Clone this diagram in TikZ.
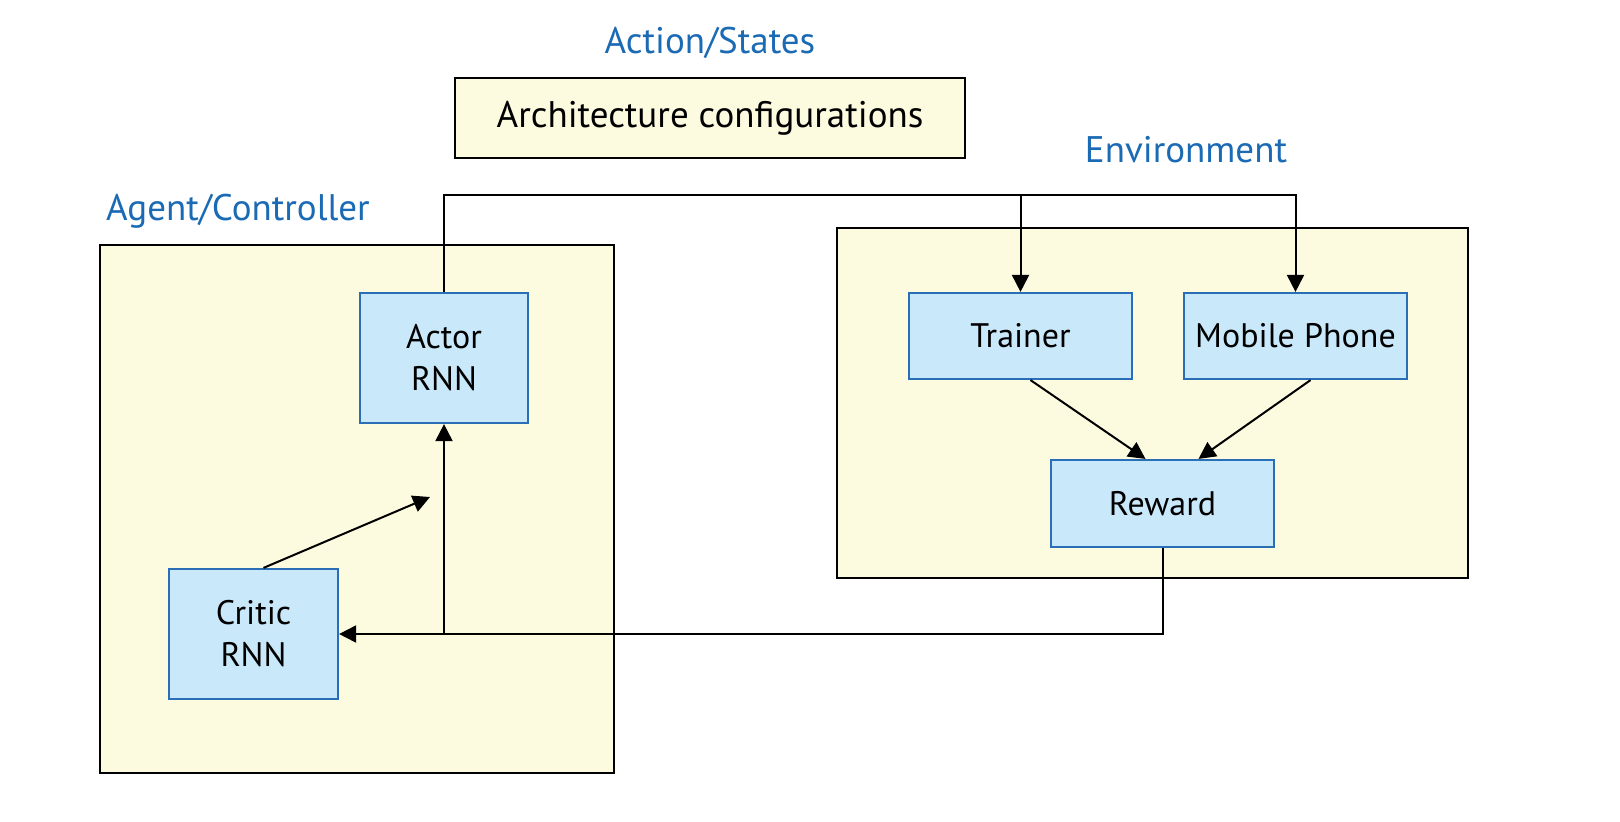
\documentclass[tikz,border=0pt]{standalone}
\usepackage{fontspec}
\setmainfont{PT Sans}
\usetikzlibrary{arrows.meta,positioning}
\definecolor{pale}{HTML}{FDFBDF}
\definecolor{sky}{HTML}{C9E9FB}
\definecolor{titleblue}{HTML}{1B6AB4}
\definecolor{edgeblue}{HTML}{2A6EB5}

\begin{document}
\begin{tikzpicture}[x=1pt,y=-1pt,>={Triangle[length=17pt,width=17pt]},line width=2pt,
    font=\fontsize{37}{44}\selectfont,
    panel/.style={draw=black,fill=pale,inner sep=0pt},
    unit/.style={draw=edgeblue,fill=sky,line width=2.2pt,align=center,inner sep=0pt,
        font=\fontsize{34}{42}\selectfont},
    heading/.style={text=titleblue}]

    \useasboundingbox (0,0) rectangle (1620,822);

    % frames
    \node[panel,minimum width=514pt,minimum height=528pt] (agent) at (357,509)   {};
    \node[panel,minimum width=631pt,minimum height=350pt] (env)   at (1152.5,403) {};
    \node[panel,minimum width=510pt,minimum height=80pt]  (arch)  at (710,118)   {Architecture configurations};

    % headings
    \node[heading] (actlbl) at (710,43)  {Action/States};
    \node[heading] (envlbl) at (1186,150) {Environment};
    \node[heading] (agtlbl) at (238,211) {Agent/Controller};

    % blocks
    \node[unit,minimum width=168pt,minimum height=130pt] (actor)   at (444,358)     {Actor\\RNN};
    \node[unit,minimum width=169pt,minimum height=130pt] (critic)  at (253.5,634)   {Critic\\RNN};
    \node[unit,minimum width=223pt,minimum height=86pt]  (trainer) at (1020.5,336)  {Trainer};
    \node[unit,minimum width=223pt,minimum height=86pt]  (mobile)  at (1295.5,336)  {Mobile Phone};
    \node[unit,minimum width=223pt,minimum height=87pt]  (reward)  at (1162.5,503.5) {Reward};

    \coordinate (bus)  at (0,195);
    \coordinate (hint) at (430,497);

    % connectors
    \draw[->] (actor.north) |- (bus -| mobile.north) -- (mobile.north);
    \draw[->] (trainer.north |- bus) -- (trainer.north);
    \draw[->] ([xshift=10pt]trainer.south) -- ([xshift=-17pt]reward.north);
    \draw[->] ([xshift=15pt]mobile.south) -- ([xshift=36pt]reward.north);
    \draw[->] (reward.south) |- (critic.east);
    \draw[->] (actor.south |- critic.east) -- (actor.south);
    \draw[->] ([xshift=10pt]critic.north) -- (hint);

\end{tikzpicture}
\end{document}
